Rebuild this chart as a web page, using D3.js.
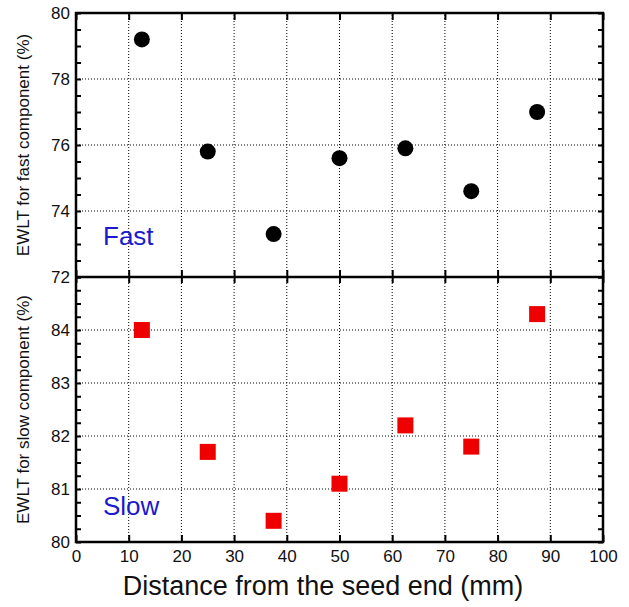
<!DOCTYPE html>
<html lang="en">
<head>
<meta charset="UTF-8">
<title>EWLT</title>
<script src="https://cdn.jsdelivr.net/npm/d3@7"></script>
<style>
  body { margin: 0; background: #fff; }
  svg { display: block; font-family: "Liberation Sans", Arial, sans-serif; }
</style>
</head>
<body>
<svg width="629" height="607"></svg>
<script>
// data
var positions = [12.5, 25, 37.5, 50, 62.5, 75, 87.5];
var fastValues = [79.2, 75.8, 73.3, 75.6, 75.9, 74.6, 77.0];
var slowValues = [84.0, 81.7, 80.4, 81.1, 82.2, 81.8, 84.3];
var xTicks = [0, 10, 20, 30, 40, 50, 60, 70, 80, 90, 100];
var fastTicks = [72, 74, 76, 78, 80];
var slowTicks = [80, 81, 82, 83, 84];

var svg = d3.select("svg");
var pLeft = 76, pRight = 603, pTop = 13, pMid = 277, pBottom = 542;
var tickFont = 17;

var x = d3.scaleLinear().domain([0, 100]).range([pLeft, pRight]);
var yFast = d3.scaleLinear().domain([72, 80]).range([pMid, pTop]);
var ySlow = d3.scaleLinear().domain([80, 85]).range([pBottom, pMid]);

function styleText(s) {
  s.selectAll("text").attr("font-size", tickFont).attr("fill", "#111")
    .attr("font-family", "Liberation Sans, Arial, sans-serif");
}

function panel(y, y0, y1, majors, minorStep) {
  var g = svg.append("g");
  // grid
  g.selectAll(".gx").data(xTicks.slice(1, -1)).enter().append("line")
    .attr("x1", function(d) { return x(d); }).attr("x2", function(d) { return x(d); })
    .attr("y1", y(y0)).attr("y2", y(y1))
    .attr("stroke", "#000").attr("stroke-width", 1).attr("stroke-dasharray", "1,2");
  g.selectAll(".gy").data(majors.filter(function(d) { return d > y0 && d < y1; })).enter().append("line")
    .attr("x1", x(0)).attr("x2", x(100))
    .attr("y1", function(d) { return y(d); }).attr("y2", function(d) { return y(d); })
    .attr("stroke", "#000").attr("stroke-width", 1).attr("stroke-dasharray", "1,2");

  // minor ticks inward, left and right
  var minors = d3.range(y0, y1 + 1e-9, minorStep);
  g.append("g").attr("transform", "translate(" + pLeft + ",0)")
    .call(d3.axisLeft(y).tickValues(minors).tickSize(-5).tickFormat(""));
  g.append("g").attr("transform", "translate(" + pRight + ",0)")
    .call(d3.axisRight(y).tickValues(minors).tickSize(-5).tickFormat(""));
  // labels
  g.append("g").attr("transform", "translate(" + pLeft + ",0)")
    .call(d3.axisLeft(y).tickValues(majors).tickSize(0).tickPadding(6).tickFormat(d3.format("d")))
    .call(styleText);
  g.selectAll(".domain").remove();
}

panel(yFast, 72, 80, fastTicks, 0.5);
panel(ySlow, 80, 85, slowTicks, 0.25);

// x ticks: bottom (up), middle (both), top (down)
svg.append("g").attr("transform", "translate(0," + pBottom + ")")
  .call(d3.axisBottom(x).tickValues(xTicks).tickSize(-7).tickPadding(8).tickFormat(d3.format("d")))
  .call(styleText);
svg.append("g").attr("transform", "translate(0," + pMid + ")")
  .call(d3.axisBottom(x).tickValues(xTicks).tickSize(6).tickFormat(""));
svg.append("g").attr("transform", "translate(0," + pMid + ")")
  .call(d3.axisTop(x).tickValues(xTicks).tickSize(7).tickFormat(""));
svg.append("g").attr("transform", "translate(0," + pTop + ")")
  .call(d3.axisTop(x).tickValues(xTicks).tickSize(-7).tickFormat(""));
svg.selectAll(".domain").remove();
svg.selectAll(".tick line").attr("stroke", "#000").attr("stroke-width", 2);

// frames
svg.append("rect").attr("x", pLeft).attr("y", pTop).attr("width", pRight - pLeft).attr("height", pBottom - pTop)
  .attr("fill", "none").attr("stroke", "#000").attr("stroke-width", 2.5);
svg.append("line").attr("x1", pLeft).attr("x2", pRight).attr("y1", pMid).attr("y2", pMid)
  .attr("stroke", "#000").attr("stroke-width", 2.5);

// markers
svg.selectAll(".fast").data(positions).enter().append("circle")
  .attr("cx", function(d) { return x(d); })
  .attr("cy", function(d, i) { return yFast(fastValues[i]); })
  .attr("r", 8).attr("fill", "#000");
var sz = 16;
svg.selectAll(".slow").data(positions).enter().append("rect")
  .attr("x", function(d) { return x(d) - sz / 2; })
  .attr("y", function(d, i) { return ySlow(slowValues[i]) - sz / 2; })
  .attr("width", sz).attr("height", sz).attr("fill", "#ee0000");

// texts
svg.append("text").attr("x", 103).attr("y", 245).attr("font-size", 26).attr("fill", "#1a1acd").text("Fast");
svg.append("text").attr("x", 103).attr("y", 515).attr("font-size", 26).attr("fill", "#1a1acd").text("Slow");
svg.append("text").attr("transform", "translate(29," + ((pTop + pMid) / 2) + ") rotate(-90)")
  .attr("text-anchor", "middle").attr("font-size", 17).attr("fill", "#111").text("EWLT for fast component (%)");
svg.append("text").attr("transform", "translate(29," + ((pMid + pBottom) / 2) + ") rotate(-90)")
  .attr("text-anchor", "middle").attr("font-size", 17).attr("fill", "#111").text("EWLT for slow component (%)");
svg.append("text").attr("x", 323).attr("y", 595).attr("text-anchor", "middle")
  .attr("font-size", 27).attr("fill", "#111").text("Distance from the seed end (mm)");
</script>
</body>
</html>
